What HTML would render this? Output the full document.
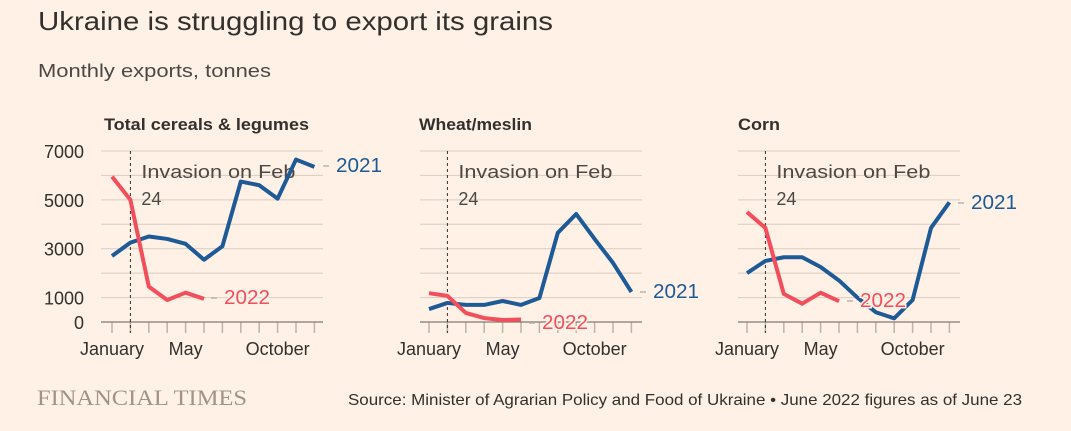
<!DOCTYPE html>
<html><head><meta charset="utf-8"><style>
html,body{margin:0;padding:0;background:#fff1e5;}
svg{display:block;font-family:"Liberation Sans",sans-serif;}
</style></head><body>
<svg id="chart" width="1071" height="431" viewBox="0 0 1071 431">
<rect x="0" y="0" width="1071" height="431" fill="#fff1e5"/>
<text x="38" y="30" font-size="26" fill="#33302e" textLength="515" lengthAdjust="spacingAndGlyphs">Ukraine is struggling to export its grains</text>
<text x="38" y="77" font-size="18" fill="#4d4845" textLength="233" lengthAdjust="spacingAndGlyphs">Monthly exports, tonnes</text>
<text x="37" y="405" font-size="22" fill="#a09488" font-family="Liberation Serif, serif" textLength="210" lengthAdjust="spacingAndGlyphs">FINANCIAL TIMES</text>
<text x="348" y="405" font-size="16" fill="#33302e" textLength="674" lengthAdjust="spacingAndGlyphs">Source: Minister of Agrarian Policy and Food of Ukraine • June 2022 figures as of June 23</text>
<g id="panels"></g>
</svg>
<script>
const months = ["Jan","Feb","Mar","Apr","May","Jun","Jul","Aug","Sep","Oct","Nov","Dec"];
const yTicks = [0,1000,2000,3000,4000,5000,6000,7000];
const yTickLabels = ["0","1000","","3000","","5000","","7000"];
const xTickLabels = [["January",0],["May",4],["October",9]];
const panelTitles = ["Total cereals & legumes","Wheat/meslin","Corn"];
const total2021 = [2700,3250,3500,3400,3200,2550,3100,5750,5600,5050,6650,6350];
const total2022 = [5950,5000,1450,900,1200,950];
const wheat2021 = [530,780,700,700,860,700,980,3650,4420,3400,2420,1230];
const wheat2022 = [1180,1070,370,160,80,100];
const corn2021 = [2000,2500,2650,2650,2250,1700,1000,400,150,900,3850,4900];
const corn2022 = [4500,3850,1150,750,1200,850];

const NS="http://www.w3.org/2000/svg";
const g=document.getElementById('panels');
function el(tag,attrs,parent){const e=document.createElementNS(NS,tag);for(const k in attrs)e.setAttribute(k,attrs[k]);(parent||g).appendChild(e);return e;}
function yScale(v){return 322-v*(171/7000);}
const panels=[
 {x0:101,x1:323,jan:112,s21:total2021,s22:total2022,l21:[336,172],l22:[224,304],axis:true,title:104,tw:205},
 {x0:420,x1:642,jan:429,s21:wheat2021,s22:wheat2022,l21:[653,298],l22:[542,329],axis:false,title:419,tw:113},
 {x0:738,x1:960,jan:747,s21:corn2021,s22:corn2022,l21:[971,209],l22:[860,307],axis:false,title:738,tw:42}
];
const step=18.4;
panels.forEach((p,pi)=>{
 const xs=i=>p.jan+i*step;
 const t=el('text',{x:p.title,y:130,'font-size':17,'font-weight':'bold',fill:'#33302e',textLength:p.tw,lengthAdjust:'spacingAndGlyphs'});
 
 
 t.textContent=panelTitles[pi];
 yTicks.forEach((v,i)=>{
  if(v===0)return;
  const l=el('line',{x1:p.x0,x2:p.x1,y1:yScale(v),y2:yScale(v),stroke:'#d9cdc2','stroke-width':1});
  
  
  if(p.axis&&yTickLabels[i]){
   const tl=el('text',{x:84,y:yScale(v)+7,'font-size':18,fill:'#33302e','text-anchor':'end'});
   
   
   tl.textContent=yTickLabels[i];
  }
 });
 if(p.axis){
  const z=el('text',{x:84,y:329,'font-size':18,fill:'#33302e','text-anchor':'end'});
  
  
  z.textContent="0";
 }
 months.forEach((m,i)=>{
  const tk=el('line',{x1:xs(i),x2:xs(i),y1:322,y2:333,stroke:'#bdb3aa','stroke-width':1.5});
  
  
 });
 const ax=el('line',{x1:p.x0,x2:p.x1,y1:322,y2:322,stroke:'#807973','stroke-width':1.2});
 
 
 xTickLabels.forEach(([lab,i])=>{
  const tl=el('text',{x:xs(i),y:355,'font-size':18,fill:'#33302e','text-anchor':'middle'});
  
  
  tl.textContent=lab;
 });
 const dl=el('line',{x1:xs(1),x2:xs(1),y1:151,y2:333,stroke:'#33302e','stroke-width':1,'stroke-dasharray':'3,3'});
 
 
 const a1=el('text',{x:xs(1)+11,y:178,'font-size':18,fill:'#4d4845',textLength:154,lengthAdjust:'spacingAndGlyphs'});
 
 
 a1.textContent="Invasion on Feb";
 const a2=el('text',{x:xs(1)+11,y:205,'font-size':18,fill:'#4d4845'});
 
 
 a2.textContent="24";
 const mk=(arr,col,name)=>{
  const pl=el('polyline',{points:arr.map((v,i)=>xs(i)+','+yScale(v)).join(' '),fill:'none',stroke:col,'stroke-width':4,'stroke-linejoin':'round'});
  
  
 };
 mk(p.s21,'#1e5a96','line-2021');
 mk(p.s22,'#f24e5b','line-2022');
 const lab=(pos,txt,col,name)=>{
  const d=el('line',{x1:pos[0]-13,x2:pos[0]-7,y1:pos[1]-6,y2:pos[1]-6,stroke:'#bdb3aa','stroke-width':1.5});
  
  
  const tt=el('text',{x:pos[0],y:pos[1],'font-size':20,fill:col,stroke:'#fff1e5','stroke-width':3,'paint-order':'stroke',textLength:46,lengthAdjust:'spacingAndGlyphs'});
  
  
  tt.textContent=txt;
 };
 lab(p.l21,'2021','#1e5a96','label-2021');
 lab(p.l22,'2022','#f24e5b','label-2022');
});
</script>
</body></html>
